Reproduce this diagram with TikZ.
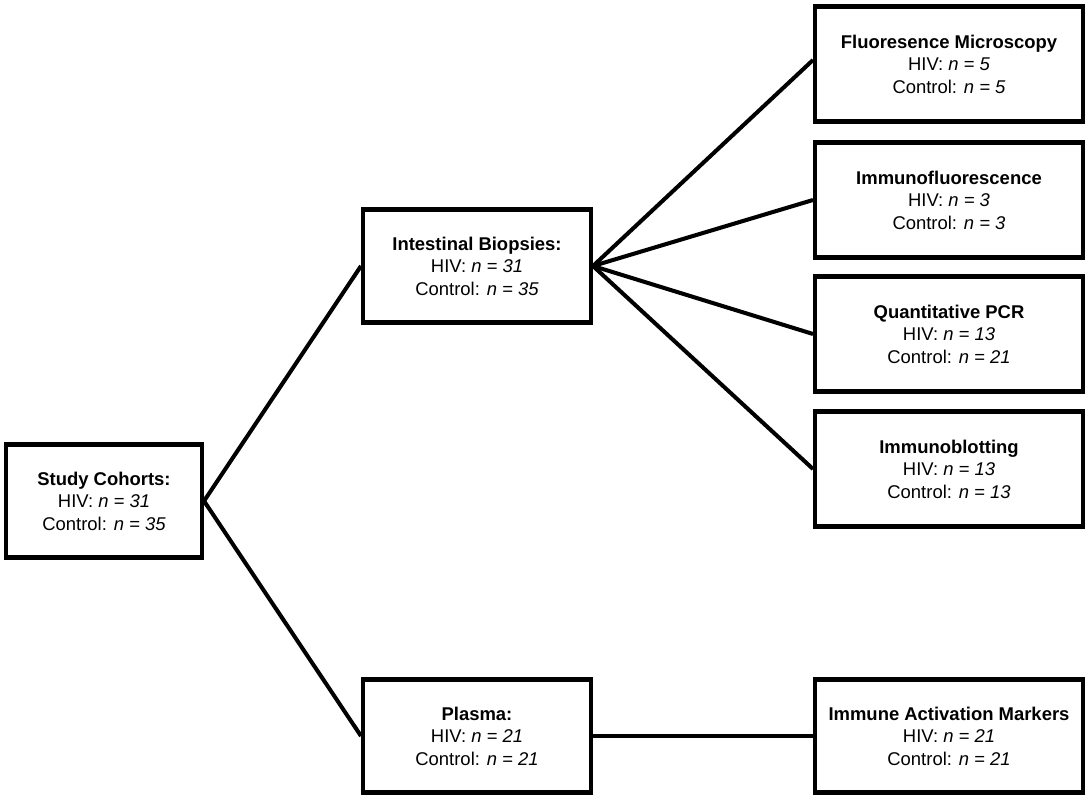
\documentclass[tikz,border=0pt]{standalone}
\usepackage{fontspec}
\setmainfont{Liberation Sans}
\usetikzlibrary{calc}

\tikzset{
  box/.style={draw, line width=2.3pt, align=center, inner sep=2pt,
    font=\fontsize{10.5}{12.8}\selectfont},
  link/.style={line width=2.3pt},
}

\begin{document}
\begin{tikzpicture}[x=0.02cm,y=-0.02cm]

\useasboundingbox (0,0) rectangle (1088,800);

\node[box, minimum width=3.92cm, minimum height=2.26cm] (cohorts) at (104,501)
  {\textbf{Study Cohorts:}\\HIV: \textit{n = 31}\\Control: \textit{n = 35}};
\node[box, minimum width=4.56cm, minimum height=2.26cm] (biopsies) at (477,266)
  {\textbf{Intestinal Biopsies:}\\HIV: \textit{n = 31}\\Control: \textit{n = 35}};
\node[box, minimum width=4.56cm, minimum height=2.26cm] (plasma) at (477,736)
  {\textbf{Plasma:}\\HIV: \textit{n = 21}\\Control: \textit{n = 21}};

\node[box, minimum width=5.36cm, minimum height=2.3cm] (micro) at (949,64)
  {\textbf{Fluoresence Microscopy}\\HIV: \textit{n = 5}\\Control: \textit{n = 5}};
\node[box, minimum width=5.36cm, minimum height=2.3cm] (immfl) at (949,200)
  {\textbf{Immunofluorescence}\\HIV: \textit{n = 3}\\Control: \textit{n = 3}};
\node[box, minimum width=5.36cm, minimum height=2.3cm] (qpcr) at (949,334)
  {\textbf{Quantitative PCR}\\HIV: \textit{n = 13}\\Control: \textit{n = 21}};
\node[box, minimum width=5.36cm, minimum height=2.3cm] (blot) at (949,469)
  {\textbf{Immunoblotting}\\HIV: \textit{n = 13}\\Control: \textit{n = 13}};
\node[box, minimum width=5.36cm, minimum height=2.26cm] (markers) at (949,736)
  {\textbf{Immune Activation Markers}\\HIV: \textit{n = 21}\\Control: \textit{n = 21}};

\draw[link] (cohorts.east) -- (biopsies.west);
\draw[link] (cohorts.east) -- (plasma.west);
\draw[link] (biopsies.east) -- ($(micro.west)+(0,-4)$);
\draw[link] (biopsies.east) -- (immfl.west);
\draw[link] (biopsies.east) -- (qpcr.west);
\draw[link] (biopsies.east) -- (blot.west);
\draw[link] (plasma.east) -- (markers.west);

\end{tikzpicture}
\end{document}
